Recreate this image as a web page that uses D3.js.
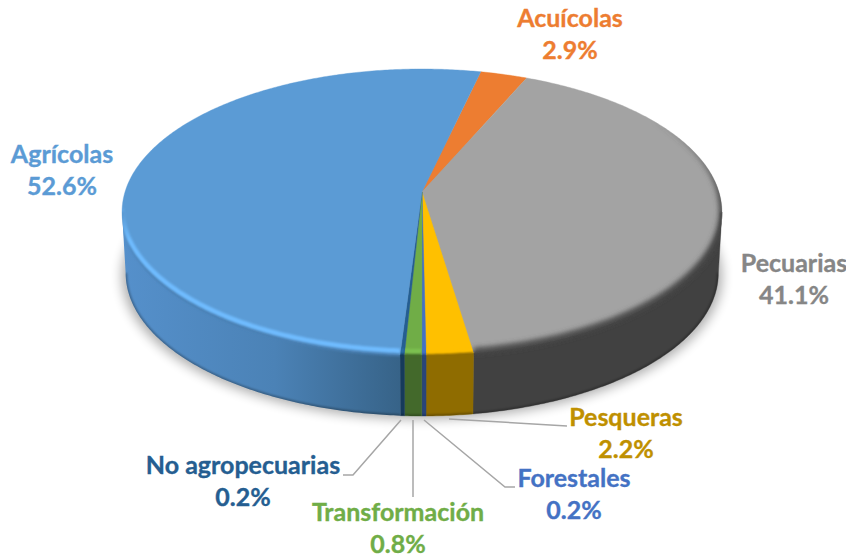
<!DOCTYPE html>
<html><head><meta charset="utf-8">
<script src="https://cdn.jsdelivr.net/npm/d3@7/dist/d3.min.js"></script>
<style>html,body{margin:0;padding:0;background:#fff}svg{display:block}text{font-family:Lato,"Open Sans",sans-serif;font-weight:700}</style>
</head><body><svg id="c" width="846" height="558"></svg>
<script>
const categories=["Acuícolas","Pecuarias","Pesqueras","Forestales","Transformación","No agropecuarias","Agrícolas"];
const values=[2.9,41.1,2.2,0.2,0.8,0.2,52.6];
const labels=["2.9%","41.1%","2.2%","0.2%","0.8%","0.2%","52.6%"];
const colors=["#ed7d31","#a3a3a3","#ffc000","#4472c4","#70ad47","#255e91","#5b9bd5"];
const textColors=["#ed7d31","#868686","#bf9000","#4472c4","#70ad47","#255e91","#5b9bd5"];
const sideColors=["#8e4b1d","#414141","#8f6c00","#29457a","#43692b","#163a5b","#3f6e98"];
const rimColors=["#ed7d31","#a3a3a3","#ffc000","#4472c4","#7cc04f","#2c6ea8","#6fbcff"];
const labelX=[570,794,626,574,398,243,62];
const labelY=[27,272,426,487,521,474,163];
const leaders=[null,null,[[449,419],[567,426]],[[424,420],[505,487],[515,487]],[[413,420],[413,497]],[[401,420],[353,475],[343,475]],null];

const svg=d3.select("#c"),defs=svg.append("defs");
const addBlur=(id,sd)=>defs.append("filter").attr("id",id).attr("filterUnits","userSpaceOnUse")
  .attr("x",0).attr("y",0).attr("width",846).attr("height",558).append("feGaussianBlur").attr("stdDeviation",sd);
addBlur("b1",1.3);addBlur("b2",2.4);addBlur("shadow",6);
const grad=defs.append("linearGradient").attr("id","sideBlue").attr("gradientUnits","userSpaceOnUse").attr("x1",122).attr("x2",400).attr("y1",0).attr("y2",0);
grad.append("stop").attr("offset",0).attr("stop-color","#5590cb");
grad.append("stop").attr("offset",0.55).attr("stop-color","#4b82b6");
grad.append("stop").attr("offset",1).attr("stop-color","#376388");
const fade=(id,col,y1,y2)=>{const l=defs.append("linearGradient").attr("id",id).attr("gradientUnits","userSpaceOnUse").attr("x1",0).attr("x2",0).attr("y1",y1).attr("y2",y2);
  l.append("stop").attr("offset",0).attr("stop-color",col).attr("stop-opacity",0);
  l.append("stop").attr("offset",1).attr("stop-color",col).attr("stop-opacity",1);};
fade("hiBlue",rimColors[6],200,240);
fade("darkGray","#4a4a4a",120,200);

// perspective disc
const cx=422,cy=192,k=0.14,R=297,B=140.2;
const project=(a,r=1,dy=0)=>{const c=Math.cos(a),w=1+k*c;return [cx+r*R*Math.sin(a)/w,cy+dy-B*c/w];};
const line=d3.line().curve(d3.curveLinear);
const arcPts=(a0,a1,r=1,dy=0)=>{const n=Math.max(2,Math.ceil(Math.abs(a1-a0)/0.01));
  return d3.range(n+1).map(i=>project(a0+(a1-a0)*i/n,r,dy));};

const start=13*Math.PI/180;
const arcs=d3.pie().sort(null).startAngle(start).endAngle(start+2*Math.PI)(values);
const depth=61,bottomR=0.988;
const frontStart=Math.PI/2+Math.asin(k),frontEnd=3*Math.PI/2-Math.asin(k);

// shadow
svg.append("path").attr("d",line(arcPts(0,2*Math.PI,1,depth+3))+"Z").attr("fill","#000").attr("opacity",0.32).attr("filter","url(#shadow)");

const sideG=svg.append("g"),topG=svg.append("g"),bevelG=svg.append("g");
arcs.forEach((d,i)=>{
  const topD=line([[cx,cy]].concat(arcPts(d.startAngle,d.endAngle)))+"Z";
  topG.append("path").attr("d",topD).attr("fill",colors[i]).attr("stroke",colors[i]).attr("stroke-width",0.4);
  const a0=Math.max(d.startAngle,frontStart),a1=Math.min(d.endAngle,frontEnd);
  const clip=defs.append("clipPath").attr("id","clip"+i);
  clip.append("path").attr("d",topD);
  if(a1>a0){
    const sideD=line(arcPts(a0,a1).concat(arcPts(a0,a1,bottomR,depth).reverse()))+"Z";
    clip.append("path").attr("d",sideD);
    defs.append("clipPath").attr("id","sclip"+i).append("path").attr("d",sideD);
    sideG.append("path").attr("d",sideD).attr("fill",i===6?"url(#sideBlue)":sideColors[i]).attr("stroke",i===6?"none":sideColors[i]).attr("stroke-width",0.4);
    // darker lower edge of the wall
    sideG.append("g").attr("clip-path","url(#sclip"+i+")").append("path").attr("d",line(arcPts(a0,a1,bottomR,depth)))
      .attr("fill","none").attr("stroke","#000").attr("stroke-opacity",0.3).attr("stroke-width",3).attr("filter","url(#b1)");
    const b=bevelG.append("g").attr("clip-path","url(#clip"+i+")");
    // soft seam between the face and the wall
    b.append("path").attr("d",line(arcPts(a0,a1))).attr("fill","none").attr("stroke",i===6?"#4a80b4":sideColors[i]).attr("stroke-width",3).attr("filter","url(#b1)");
    // highlight just inside the rim
    if(i!==1) b.append("path").attr("d",line(arcPts(a0,a1,1,-4))).attr("fill","none")
      .attr("stroke",i===6?"url(#hiBlue)":rimColors[i]).attr("stroke-width",4.5).attr("filter","url(#b1)");
  }
  if(i===1){
    // the grey slice darkens softly toward its rim
    const a=40*Math.PI/180,e=d.endAngle;
    bevelG.append("g").attr("clip-path","url(#clip1)").append("path").attr("d",line(arcPts(a,e,1,-2))).attr("fill","none")
      .attr("stroke","url(#darkGray)").attr("stroke-width",6).attr("filter","url(#b2)");
  }
});

// leaders
leaders.forEach(l=>{ if(l) svg.append("path").attr("d",line(l)).attr("fill","none").attr("stroke","#a6a6a6").attr("stroke-width",1.5); });

// labels
categories.forEach((c,i)=>{
  const t=svg.append("text").attr("text-anchor","middle").attr("fill",textColors[i]).attr("font-size",25)
    .attr("stroke",textColors[i]).attr("stroke-width",0.35);
  t.append("tspan").attr("x",labelX[i]).attr("y",labelY[i]).text(c);
  t.append("tspan").attr("x",labelX[i]).attr("y",labelY[i]+32).text(labels[i]);
});
</script></body></html>
